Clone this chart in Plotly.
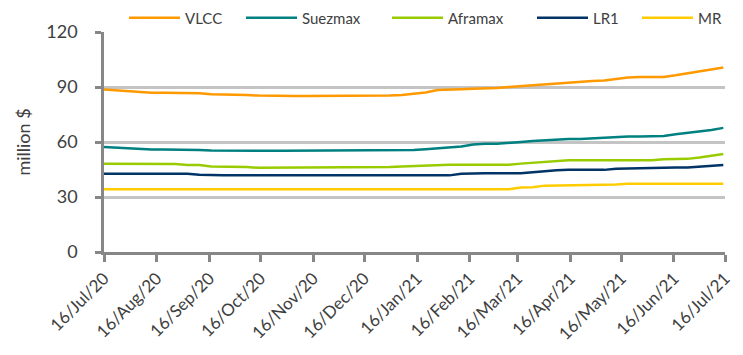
import plotly.graph_objects as go
import pandas as pd

dates = pd.date_range("2020-07-16", periods=53, freq="7D")

vlcc = [88.6, 88.1, 87.6, 87.1, 86.9, 86.9, 86.9, 86.9, 86.6, 86.0, 86.0, 85.8, 85.6, 85.3,
        85.1, 85.1, 85.1, 85.1, 85.1, 85.1, 85.1, 85.1, 85.1, 85.1, 85.3, 85.6, 86.2, 87.0,
        88.3, 88.4, 88.8, 89.1, 89.2, 89.5, 90.0, 90.5, 90.8, 91.3, 91.8, 92.3, 92.8, 93.3,
        93.5, 94.2, 95.2, 95.4, 95.3, 95.5, 96.4, 97.5, 98.5, 99.5, 100.6]
suezmax = [57.3, 56.9, 56.4, 56.0, 55.9, 55.9, 55.9, 55.7, 55.6, 55.3, 55.2, 55.2, 55.2, 55.2,
           55.2, 55.2, 55.2, 55.2, 55.2, 55.2, 55.2, 55.2, 55.2, 55.2, 55.2, 55.2, 55.6, 56.0,
           56.4, 57.0, 57.6, 58.6, 59.1, 59.1, 59.4, 60.0, 60.5, 61.0, 61.5, 61.7, 61.6, 62.0,
           62.3, 63.0, 63.0, 63.0, 63.0, 63.3, 64.2, 65.0, 65.6, 66.6, 67.7]
aframax = [48.1, 48.1, 48.1, 48.1, 48.1, 48.1, 48.0, 47.5, 47.5, 46.6, 46.6, 46.6, 46.3, 45.9,
           45.9, 45.9, 45.9, 45.9, 45.9, 45.9, 45.9, 45.9, 45.9, 45.9, 46.3, 46.7, 47.0, 47.2,
           47.5, 47.6, 47.6, 47.6, 47.6, 47.6, 47.6, 48.2, 48.7, 49.2, 49.8, 50.1, 50.1, 50.1,
           50.1, 50.1, 50.1, 50.1, 50.1, 50.6, 50.7, 50.8, 51.5, 52.5, 53.5]
lr1 = [42.7, 42.7, 42.7, 42.7, 42.7, 42.7, 42.7, 42.7, 42.2, 41.8, 41.8, 41.8, 41.8, 41.8,
       41.8, 41.8, 41.8, 41.8, 41.8, 41.8, 41.8, 41.8, 41.8, 41.8, 41.8, 41.8, 41.8, 41.8,
       41.8, 41.8, 42.7, 43.0, 43.0, 43.0, 43.0, 43.0, 43.5, 44.1, 44.6, 44.8, 44.8, 44.8,
       44.8, 45.4, 45.6, 45.6, 45.6, 46.0, 46.1, 46.1, 46.5, 47.0, 47.4]
mr = [34.2] * 35 + [35.2, 35.3, 36.2, 36.3, 36.3, 36.3, 36.3, 36.3, 36.8] + [37.2] * 9

series_names = ["VLCC", "Suezmax", "Aframax", "LR1", "MR"]
series_values = [vlcc, suezmax, aframax, lr1, mr]
series_colors = ["#FF9900", "#008080", "#99CC00", "#003366", "#FFCC00"]

tick_dates = [pd.Timestamp(2020, 7, 16) + pd.DateOffset(months=m) for m in range(13)]
tick_labels = [d.strftime("%d/%b/%y") for d in tick_dates]
y_ticks = [0, 30, 60, 90, 120]

# page body has an 8px margin: the figure is sized to fit inside the window
OFF = 8
W, H = 743 - 2 * OFF, 355 - 2 * OFF
legend_line_starts = [132, 249, 395, 540, 645]
legend_names = ["legend", "legend2", "legend3", "legend4", "legend5"]

fig = go.Figure()
for name, vals, col, lg in zip(series_names, series_values, series_colors, legend_names):
    fig.add_trace(go.Scatter(x=dates, y=vals, name=name, mode="lines", legend=lg,
                             line=dict(color=col, width=2.5)))

layout_legends = {}
for lg, xs in zip(legend_names, legend_line_starts):
    layout_legends[lg] = dict(
        xref="container", yref="container", x=(xs - 8 - OFF) / W, y=1 - (18 - OFF) / H,
        xanchor="left", yanchor="middle", orientation="h", itemwidth=51,
        font=dict(family="Lato", size=15, color="#404040"), bgcolor="rgba(0,0,0,0)",
    )

fig.update_layout(
    width=W, height=H,
    margin=dict(l=104 - OFF, r=743 - 725 - OFF, t=32 - OFF, b=355 - 252 - OFF, autoexpand=False),
    paper_bgcolor="white", plot_bgcolor="white",
    font=dict(family="Lato", color="#404040"),
    showlegend=True,
    **layout_legends,
)
fig.update_xaxes(
    type="date", range=[tick_dates[0], tick_dates[-1]], automargin=False,
    tickvals=tick_dates, ticktext=tick_labels, tickangle=-45,
    tickfont=dict(size=17, color="#404040"),
    showgrid=False, showline=True, linecolor="#878787", linewidth=2.5,
    ticks="outside", ticklen=7, tickwidth=2.5, tickcolor="#878787",
)
fig.update_yaxes(
    range=[0, 120], tickvals=y_ticks, automargin=False,
    tickfont=dict(size=18, color="#404040"), ticklabelstandoff=14,
    showgrid=True, gridcolor="#C4C4C4", gridwidth=2.5,
    showline=True, linecolor="#878787", linewidth=2.5,
    ticks="outside", ticklen=6, tickwidth=2.5, tickcolor="#878787",
    title=dict(text="million $", font=dict(size=18, color="#404040"), standoff=12),
    zeroline=False,
)
fig.write_html("out.html")
